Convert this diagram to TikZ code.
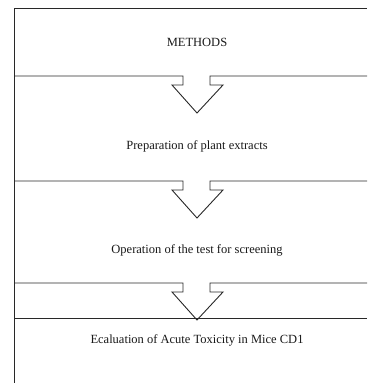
\documentclass[tikz,border=0pt]{standalone}
\usepackage{fontspec}
\setmainfont{Liberation Serif}
\usepackage{tikz}
\definecolor{linegray}{RGB}{40, 40, 40}

% separator line with a hollow arrow notch at height #1
\newcommand{\notchline}[1]{%
  \draw[frame] (14,-#1) -- (183,-#1) -- (183,-#1-9) -- (172,-#1-9)
    -- (197,-#1-37) -- (223,-#1-9) -- (210,-#1-9) -- (210,-#1) -- (367,-#1);}

\begin{document}
\begin{tikzpicture}[x=1pt, y=1pt,
    frame/.style={line width=0.9pt, linegray, line join=miter},
    steplabel/.style={font=\fontsize{12.5}{14}\selectfont, text=black!90, inner sep=0pt}]
        \useasboundingbox (0,0) rectangle (367,-383);

        % Outer frame (left side and top)
        \draw[frame] (14,-383) -- (14,-8) -- (367,-8);

        % Separators with arrows
        \notchline{76}
        \notchline{181}
        \notchline{283}

        % Bottom box top line
        \draw[frame] (14,-318) -- (367,-318);

        % Step labels
        \node[steplabel] (methods) at (197,-42) {METHODS};
        \node[steplabel] (prep) at (197,-146) {Preparation of plant extracts};
        \node[steplabel] (oper) at (197,-250) {Operation of the test for screening};
        \node[steplabel] (eval) at (197,-340) {Ecaluation of Acute Toxicity in Mice CD1};
    \end{tikzpicture}
\end{document}
